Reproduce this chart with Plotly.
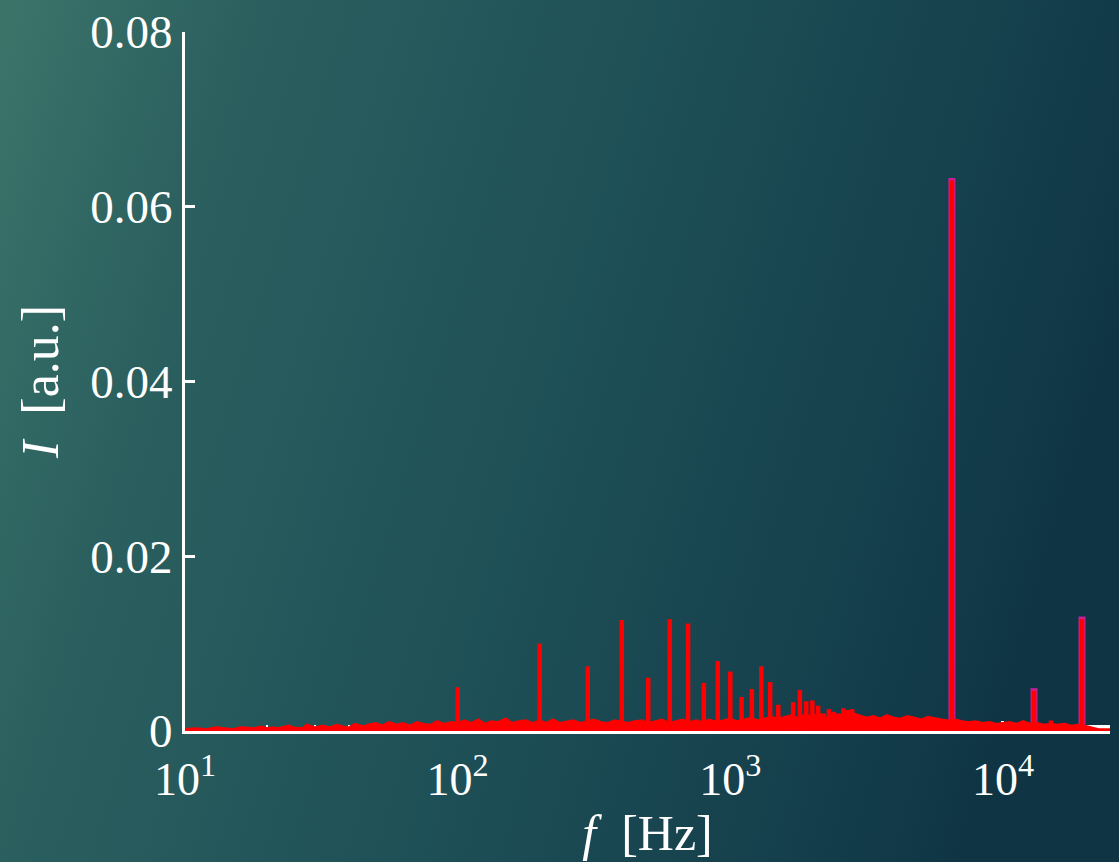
import base64
import plotly.graph_objects as go

# ---- spectrum data -------------------------------------------------------
# broadband noise floor of the measured spectrum (Hz, a.u.)
floor_freq = [
    10, 11, 12, 13, 14, 15, 16, 17, 18, 19, 20, 21,
    22, 24, 25, 27, 28, 30, 32, 34, 36, 38, 40, 42, 45, 47, 50,
    53, 56, 60, 63, 67, 71, 75, 80, 84, 89, 95,
    100, 106, 112, 119, 126, 133, 141, 150, 158, 168, 178, 188,
    200, 211, 224, 237, 251, 266, 282, 299, 316, 335, 355, 376,
    398, 422, 447, 473, 501, 531, 562, 596, 631, 668, 708, 750,
    794, 841, 891, 944, 1000, 1059, 1122, 1189, 1259, 1334, 1413, 1496,
    1585, 1679, 1778, 1884, 1995, 2113, 2239, 2371, 2512, 2661, 2818, 2985,
    3162, 3350, 3548, 3758, 3981, 4217, 4467, 4732, 5012, 5309, 5623, 5957,
    6310, 6683, 7079, 7499, 7943, 8414, 8913, 9441, 10000, 10593, 11220,
    11885, 12589, 13335, 14125, 14962, 15849, 16788, 17783, 18836, 19953,
    21135, 22387, 23714, 24700,
]
floor_amp = [
    0.0001, 0.0002, 0.0001, 0.0003, 0.0002, 0.0001, 0.0003, 0.0002, 0.0002, 0.0004, 0.0002, 0.0003,
    0.0002, 0.0005, 0.0003, 0.0002, 0.0006, 0.0003, 0.0005, 0.0003, 0.0006, 0.0004, 0.0003, 0.0007, 0.0004, 0.0006, 0.0008,
    0.0005, 0.0009, 0.0006, 0.0008, 0.0005, 0.0009, 0.0007, 0.0006, 0.0010, 0.0007, 0.0009,
    0.0008, 0.0011, 0.0008, 0.0012, 0.0007, 0.0010, 0.0009, 0.0013, 0.0008, 0.0010, 0.0011, 0.0008,
    0.0011, 0.0008, 0.0012, 0.0008, 0.0010, 0.0011, 0.0008, 0.0010, 0.0012, 0.0009, 0.0008, 0.0011,
    0.0009, 0.0008, 0.0010, 0.0011, 0.0008, 0.0010, 0.0012, 0.0008, 0.0010, 0.0012, 0.0009, 0.0011,
    0.0009, 0.0012, 0.0009, 0.0011, 0.0013, 0.0010, 0.0012, 0.0014, 0.0011, 0.0013, 0.0015, 0.0013,
    0.0015, 0.0017, 0.0013, 0.0018, 0.0015, 0.0019, 0.0014, 0.0017, 0.0018, 0.0015, 0.0019, 0.0016,
    0.0014, 0.0016, 0.0013, 0.0017, 0.0014, 0.0013, 0.0016, 0.0014, 0.0012, 0.0015, 0.0013, 0.0012,
    0.0011, 0.0012, 0.0010, 0.0009, 0.0010, 0.0008, 0.0009, 0.0007, 0.0008, 0.0009, 0.0007,
    0.0010, 0.0007, 0.0008, 0.0006, 0.0007, 0.0006, 0.0007, 0.0005, 0.0006, 0.0005,
    0.0003, 0.0001, 0.0001, 0.0001,
]

# harmonic lines (Hz, a.u.)
peak_freq = [100, 150, 200, 300, 400, 500, 600, 700, 800, 900, 1000, 1100, 1200,
             1300, 1400, 1500, 1600, 1700, 1800, 1900, 2000, 2100, 2200, 2300,
             2400, 2600, 2700, 2800, 6500, 13000, 15000, 19500]
peak_amp = [0.0050, 0.0014, 0.0100, 0.0074, 0.0127, 0.0061, 0.0128, 0.0123, 0.0055,
            0.0080, 0.0068, 0.0039, 0.0048, 0.0074, 0.0056, 0.0030, 0.0017, 0.0033,
            0.0047, 0.0034, 0.0035, 0.0029, 0.0020, 0.0025, 0.0022, 0.0026, 0.0024,
            0.0025, 0.0630, 0.0046, 0.0012, 0.0128]

# reference tone lines (second channel)
tone_freq = [6500, 13000, 19500]
tone_amp = [0.0633, 0.0049, 0.0131]

x_tickvals = [10, 100, 1000, 10000]
x_ticktext = ["10<sup>1</sup>", "10<sup>2</sup>", "10<sup>3</sup>", "10<sup>4</sup>"]
y_tickvals = [0, 0.02, 0.04, 0.06, 0.08]
y_ticktext = ["0", "0.02", "0.04", "0.06", "0.08"]


def stems(freqs, amps):
    xs, ys = [], []
    for f, a in zip(freqs, amps):
        xs += [f, f, None]
        ys += [0, a, None]
    return xs, ys


W, H = 1119, 862
ML, MR, MT, MB = 185, 9, 32, 131
PW, PH = W - ML - MR, H - MT - MB

# teal background gradient as an inline SVG
svg = f"""<svg xmlns='http://www.w3.org/2000/svg' width='{W}' height='{H}' viewBox='0 0 {W} {H}' preserveAspectRatio='none'>
<defs><linearGradient id='g' gradientUnits='userSpaceOnUse' x1='0' y1='0' x2='{W}' y2='336'>
<stop offset='0' stop-color='#3c746a'/>
<stop offset='0.2' stop-color='#2b605f'/>
<stop offset='0.55' stop-color='#1e5057'/>
<stop offset='0.9' stop-color='#133c4a'/>
<stop offset='1' stop-color='#0f3545'/>
</linearGradient></defs>
<rect width='{W}' height='{H}' fill='url(#g)'/></svg>"""
bg_uri = "data:image/svg+xml;base64," + base64.b64encode(svg.encode()).decode()

fig = go.Figure()

tx, ty = stems(tone_freq, tone_amp)
fig.add_trace(go.Scatter(x=tx, y=ty, mode="lines",
                         line=dict(color="#c81e96", width=7),
                         hoverinfo="skip", showlegend=False))

fig.add_trace(go.Scatter(x=floor_freq, y=floor_amp, mode="lines",
                         line=dict(color="#ff0000", width=4),
                         fill="tozeroy", fillcolor="#ff0000",
                         showlegend=False))

px, py = stems(peak_freq, peak_amp)
fig.add_trace(go.Scatter(x=px, y=py, mode="lines",
                         line=dict(color="#ff0000", width=4.5),
                         showlegend=False))

font_family = "Liberation Serif, DejaVu Serif, serif"

fig.update_layout(
    width=W, height=H, autosize=False,
    margin=dict(l=ML, r=MR, t=MT, b=MB, pad=0),
    paper_bgcolor="#1e5057",
    plot_bgcolor="rgba(0,0,0,0)",
    font=dict(family=font_family, color="white", size=46),
    showlegend=False,
    images=[dict(source=bg_uri, xref="paper", yref="paper",
                 x=-ML / PW, y=1 + MT / PH, sizex=W / PW, sizey=H / PH,
                 xanchor="left", yanchor="top", sizing="stretch",
                 layer="below")],
)

fig.update_xaxes(
    type="log", range=[1, 4.3927], automargin=False,
    tickvals=x_tickvals, ticktext=x_ticktext,
    ticks="inside", ticklen=10, tickwidth=3, tickcolor="white",
    minor=dict(ticks="inside", ticklen=6, tickwidth=2, tickcolor="white",
               showgrid=False),
    showline=True, linecolor="white", linewidth=3,
    showgrid=False, zeroline=False, layer="below traces",
    tickfont=dict(size=46, color="white"),
    ticklabelstandoff=6,
    title=dict(text="<i>f</i>  [Hz]", font=dict(size=50, color="white"),
               standoff=2),
)
fig.update_yaxes(
    range=[0, 0.08], automargin=False,
    tickvals=y_tickvals, ticktext=y_ticktext,
    ticks="inside", ticklen=10, tickwidth=3, tickcolor="white",
    showline=True, linecolor="white", linewidth=3,
    showgrid=False, zeroline=False, layer="below traces",
    tickfont=dict(size=47, color="white"),
    title=dict(text="<i>I</i>  [a.u.]", font=dict(size=52, color="white"),
               standoff=16),
)

fig.write_html("out.html")
